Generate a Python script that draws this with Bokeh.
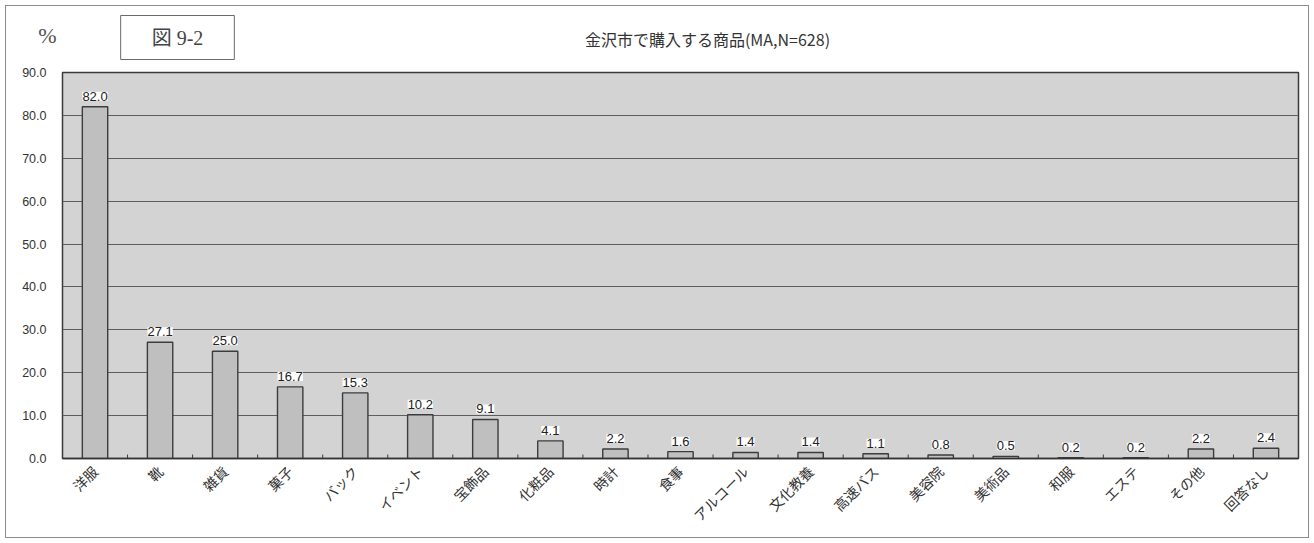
from math import pi

from bokeh.core.properties import value
from bokeh.embed import file_html
from bokeh.models import (ColumnDataSource, FactorRange, FixedTicker, Label,
                          NumeralTickFormatter, Range1d)
from bokeh.plotting import figure
from bokeh.resources import INLINE
from bokeh.transform import dodge

# Survey: goods bought in Kanazawa (multiple answers, N=628)
categories = ["洋服", "靴", "雑貨", "菓子", "バック", "イベント", "宝飾品", "化粧品",
              "時計", "食事", "アルコール", "文化教養", "高速バス", "美容院", "美術品",
              "和服", "エステ", "その他", "回答なし"]
percent = [82.0, 27.1, 25.0, 16.7, 15.3, 10.2, 9.1, 4.1, 2.2, 1.6, 1.4, 1.4,
           1.1, 0.8, 0.5, 0.2, 0.2, 2.2, 2.4]
y_ticks = [0, 10, 20, 30, 40, 50, 60, 70, 80, 90]

chart_title = "金沢市で購入する商品(MA,N=628)"
figure_no = "図 9-2"
unit_mark = "%"

src = ColumnDataSource(dict(
    cat=categories,
    val=percent,
    txt=[f"{v:.1f}" for v in percent],
))

JP = "Noto Sans CJK JP"
NUM = "Liberation Sans"
SERIF = "Liberation Serif, Noto Sans CJK JP"

p = figure(
    x_range=FactorRange(*categories, range_padding=0),
    y_range=Range1d(0, 90),
    width=1314, height=543,
    output_backend="svg", toolbar_location=None,
    min_border_left=62, min_border_right=16,
    min_border_top=72, min_border_bottom=85,
    background_fill_color="#d3d3d3",
    border_fill_color="white", border_fill_alpha=0,
    styles={"outline": "1px solid #8c8c8c", "outline-offset": "-6px"},
)
p.outline_line_color = "#3a3a3a"
p.outline_line_width = 1.5

# Bars
p.vbar(x="cat", top="val", width=0.39, source=src,
       fill_color="#bfbfbf", line_color="#3c3c3c", line_width=1.4)

# Value labels on white tags
p.text(x="cat", y="val", text="txt", source=src,
       text_align="center", text_baseline="bottom", y_offset=-6,
       text_font=value(NUM), text_font_size="13px", text_color="#222222",
       background_fill_color="white", padding=0)

# Small inward ticks at category boundaries
p.ray(x=dodge("cat", -0.5, range=p.x_range), y=0, length=4,
      length_units="screen", angle=pi / 2, source=src,
      line_color="#3c3c3c", line_width=1)

# Y axis
p.yaxis.ticker = FixedTicker(ticks=y_ticks)
p.yaxis.formatter = NumeralTickFormatter(format="0.0")
p.yaxis.axis_line_color = None
p.yaxis.major_tick_line_color = None
p.yaxis.major_tick_out = 0
p.yaxis.major_tick_in = 0
p.yaxis.minor_tick_line_color = None
p.yaxis.minor_tick_out = 0
p.yaxis.major_label_standoff = 16
p.yaxis.major_label_text_font = NUM
p.yaxis.major_label_text_font_size = "12.5px"
p.yaxis.major_label_text_color = "#333333"

p.ygrid.grid_line_color = "#5e5e5e"
p.ygrid.grid_line_width = 1.2
p.xgrid.grid_line_color = None

# X axis with slanted category names
p.xaxis.axis_line_color = "#333333"
p.xaxis.axis_line_width = 1.5
p.xaxis.major_tick_line_color = None
p.xaxis.major_label_orientation = pi / 4
p.xaxis.major_label_text_font = JP
p.xaxis.major_label_text_font_size = "14px"
p.xaxis.major_label_text_color = "#333333"
p.xaxis.major_label_standoff = 4

# Unit mark, left of the value axis (its slot sits outside the axis labels)
p.add_layout(Label(x=46, y=423, x_units="screen", y_units="screen",
                   text=unit_mark, text_align="center", text_baseline="middle",
                   text_font=SERIF, text_font_size="22px",
                   text_color="#555555"), "left")

# Boxed figure number (slot right above the plot area)
box_style = dict(x=115, y=35, x_units="screen", y_units="screen",
                 text=figure_no, text_align="center", text_baseline="middle",
                 text_font=SERIF, text_font_size="20px", text_color="#444444",
                 background_fill_color="white",
                 border_line_color="#6a6a6a", border_line_width=1)
try:
    fig_label = Label(padding=dict(left=31, right=31, top=11, bottom=11),
                      **box_style)
except Exception:
    try:
        fig_label = Label(padding=11, **box_style)
    except Exception:
        fig_label = Label(**box_style)
p.add_layout(fig_label, "above")

# Chart title (next slot up)
p.add_layout(Label(x=645, y=-10, x_units="screen", y_units="screen",
                   text=chart_title, text_align="center", text_baseline="middle",
                   text_font=JP, text_font_size="16px",
                   text_color="#333333"), "above")

open("out.html", "w").write(file_html(p, INLINE))
